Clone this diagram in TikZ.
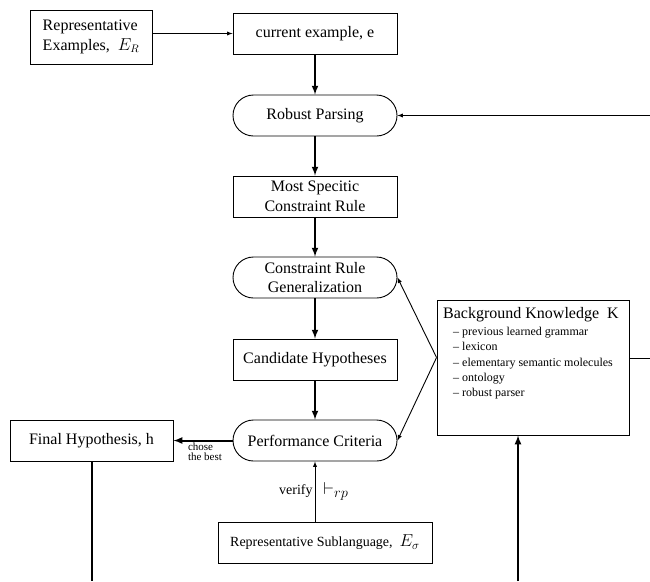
\documentclass[tikz,border=0pt]{standalone}
\usepackage{amsmath}
\usepackage{fontspec}
\setmainfont{Liberation Serif}

\begin{document}
\begin{tikzpicture}[x=1pt,y=-1pt,
flow/.style={draw,-latex,line width=2pt},
feed/.style={draw,-latex,line width=0.9pt}]
\tikzstyle{every node}=[font=\fontsize{16}{19.5}\selectfont]
\tikzstyle{stepbox}=[rectangle,draw,line width=0.9pt,minimum width=164,minimum height=41,align=center,inner sep=2pt]
\tikzstyle{procbox}=[stepbox,rounded corners=20.5pt]
\clip (0,0) rectangle (650,581);
\node[stepbox,minimum width=122,minimum height=54,align=left] (RepEx) at (91,37) {Representative\\Examples,\enspace $E_R$};
\node[stepbox] (CurEx) at (315,33.5) {current example, e};
\node[procbox] (RobPar) at (315,115.5) {Robust Parsing};
\node[stepbox] (MostSpec) at (315,196.5) {Most Specitic\\Constraint Rule};
\node[procbox] (RuleGen) at (315,277.5) {Constraint Rule\\Generalization};
\node[stepbox] (CandHyp) at (315,359.5) {Candidate Hypotheses};
\node[procbox] (PerfCrit) at (315,440.5) {Performance Criteria};
\node[stepbox,minimum width=163] (FinalHyp) at (91.5,440.5) {Final Hypothesis, h};
\node[stepbox,minimum width=214,font=\fontsize{14}{16}\selectfont] (RepSub) at (325,542.5) {Representative Sublanguage,\enspace {\fontsize{17}{18}\selectfont$E_\sigma$}};
\node[stepbox,minimum width=192,minimum height=135] (BK) at (533,367.5) {};
\node[anchor=base west,inner sep=0pt] (BKTitle) at (443,318) {Background Knowledge\enspace K};
\node[anchor=north west,inner sep=0pt,align=left,font=\fontsize{12}{15.3}\selectfont] (BKList) at (453,327) {%
-- previous learned grammar\\
-- lexicon\\
-- elementary semantic molecules\\
-- ontology\\
-- robust parser};
\coordinate (LoopIn) at (650,115.5);
\coordinate (BKOut) at (650,358);
\coordinate (BKJoin) at ([yshift=10pt]BK.west);
\coordinate (FinOut) at (91.5,581);
\coordinate (BKUp) at (518,581);
\draw[feed] (RepEx.east|-CurEx) -- (CurEx.west);
\draw[flow] (CurEx) -- (RobPar);
\draw[flow] (RobPar) -- (MostSpec);
\draw[flow] (MostSpec) -- (RuleGen);
\draw[flow] (RuleGen) -- (CandHyp);
\draw[flow] (CandHyp) -- (PerfCrit);
\draw[feed] (LoopIn) -- (RobPar.east);
\draw[feed] (BKJoin) -- (RuleGen.east);
\draw[feed] (BKJoin) -- (PerfCrit.east);
\draw[line width=0.9pt] (BKOut-|BK.east) -- (BKOut);
\draw[flow] (PerfCrit) -- (FinalHyp)
    node[midway,below,align=left,inner sep=1pt,xshift=2pt,font=\fontsize{11}{10.5}\selectfont] (ChoseLbl) {chose\\the best};
\draw[feed] (RepSub.north-|PerfCrit) -- (PerfCrit.south)
    node[midway,left,inner sep=2pt,font=\fontsize{14}{16}\selectfont] (VerLbl) {verify}
    node[midway,right,inner sep=8pt,font=\fontsize{19}{20}\selectfont] (RpLbl) {$\vdash_{rp}$};
\draw[line width=2pt] (FinalHyp) -- (FinOut);
\draw[flow] (BKUp) -- (BKUp|-BK.south);
\end{tikzpicture}
\end{document}
